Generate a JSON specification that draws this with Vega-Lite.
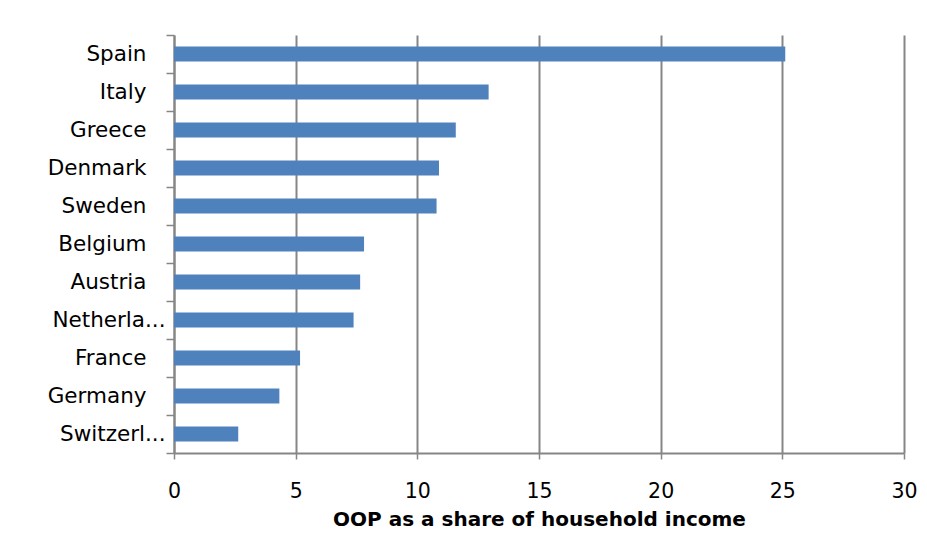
{
  "$schema": "https://vega.github.io/schema/vega-lite/v6.json",
  "autosize": "none",
  "width": 730,
  "height": 418,
  "padding": {"left": 174, "top": 35, "right": 23, "bottom": 95},
  "background": "white",
  "data": {
    "values": [
      {"country": "Spain", "oop": 25.12},
      {"country": "Italy", "oop": 12.93},
      {"country": "Greece", "oop": 11.58},
      {"country": "Denmark", "oop": 10.89},
      {"country": "Sweden", "oop": 10.79},
      {"country": "Belgium", "oop": 7.81},
      {"country": "Austria", "oop": 7.65},
      {"country": "Netherlands", "oop": 7.38},
      {"country": "France", "oop": 5.18},
      {"country": "Germany", "oop": 4.33},
      {"country": "Switzerland", "oop": 2.64}
    ]
  },
  "mark": {"type": "bar", "color": "#4F81BD", "height": {"band": 0.4}},
  "encoding": {
    "y": {
      "field": "country",
      "type": "nominal",
      "sort": null,
      "scale": {"paddingInner": 0, "paddingOuter": 0},
      "axis": {
        "title": null,
        "tickBand": "extent",
        "domainColor": "#868686",
        "domainWidth": 2,
        "tickColor": "#868686",
        "tickWidth": 1.5,
        "tickSize": 8,
        "labelPadding": {"condition": {"test": "datum.value == 'Netherlands' || datum.value == 'Switzerland'", "value": 1}, "value": 20},
        "labelExpr": "datum.value == 'Netherlands' ? 'Netherla...' : datum.value == 'Switzerland' ? 'Switzerl...' : datum.value",
        "labelFont": "DejaVu Sans",
        "labelFontSize": 21.5,
        "labelColor": "#000000",
        "labelLimit": 200,
        "grid": false
      }
    },
    "x": {
      "field": "oop",
      "type": "quantitative",
      "scale": {"domain": [0, 30], "nice": false},
      "axis": {
        "title": "OOP as a share of household income",
        "titleFont": "DejaVu Sans",
        "titleFontSize": 20,
        "titleFontWeight": "bold",
        "titleColor": "#000000",
        "titlePadding": 8,
        "values": [0, 5, 10, 15, 20, 25, 30],
        "domainColor": "#868686",
        "domainWidth": 2,
        "tickColor": "#868686",
        "tickWidth": 1.5,
        "tickSize": 6,
        "labelPadding": 22,
        "labelFont": "DejaVu Sans",
        "labelFontSize": 20.5,
        "labelColor": "#000000",
        "labelFlush": false,
        "grid": true,
        "gridColor": "#868686",
        "gridWidth": 2
      }
    }
  },
  "config": {"view": {"stroke": null}}
}
